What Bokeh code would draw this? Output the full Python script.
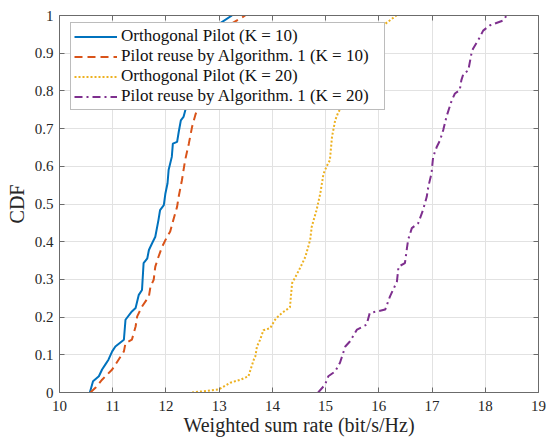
from bokeh.plotting import figure
from bokeh.models import Range1d, FixedTicker, LinearAxis, Legend, LegendItem
from bokeh.embed import file_html
from bokeh.resources import INLINE

# ---- data ----
orth10_x = [10.57, 10.63, 10.74, 10.80, 10.86, 10.92, 10.99, 11.05, 11.21, 11.24, 11.36, 11.43,
            11.49, 11.55, 11.58, 11.65, 11.68, 11.74, 11.80, 11.86, 11.89, 11.96, 11.99, 12.03,
            12.05, 12.11, 12.13, 12.21, 12.24, 12.28, 12.33, 12.38, 12.48, 12.62, 12.77, 12.90,
            13.00, 13.24]
orth10_y = [0.0, 0.03, 0.043, 0.061, 0.074, 0.087, 0.109, 0.122, 0.14, 0.193, 0.215, 0.224,
            0.259, 0.272, 0.343, 0.356, 0.378, 0.396, 0.413, 0.458, 0.484, 0.497, 0.528, 0.555,
            0.59, 0.625, 0.66, 0.665, 0.691, 0.722, 0.731, 0.757, 0.80, 0.85, 0.90, 0.95,
            0.978, 1.0]

reuse10_x = [10.58, 10.68, 10.80, 10.99, 11.05, 11.21, 11.24, 11.36, 11.43, 11.46, 11.55, 11.68,
             11.71, 11.77, 11.80, 11.86, 11.93, 12.02, 12.08, 12.14, 12.21, 12.24, 12.30, 12.36,
             12.43, 12.49, 12.55, 12.70, 12.85, 13.00, 13.10, 13.18, 13.49]
reuse10_y = [0.0, 0.013, 0.034, 0.061, 0.074, 0.109, 0.131, 0.14, 0.175, 0.202, 0.228, 0.255,
             0.281, 0.299, 0.334, 0.36, 0.387, 0.413, 0.427, 0.458, 0.493, 0.52, 0.563, 0.616,
             0.66, 0.704, 0.735, 0.80, 0.85, 0.90, 0.95, 0.974, 1.0]

orth20_x = [12.49, 12.99, 13.21, 13.40, 13.55, 13.65, 13.68, 13.71, 13.77, 13.83, 13.96, 14.05,
            14.11, 14.18, 14.33, 14.37, 14.52, 14.62, 14.71, 14.74, 14.83, 14.90, 14.96, 15.02,
            15.08, 15.12, 15.18, 15.24, 15.30, 15.50, 15.68, 15.85, 16.00, 16.12, 16.33]
orth20_y = [0.0, 0.008, 0.026, 0.034, 0.043, 0.087, 0.096, 0.122, 0.14, 0.165, 0.171, 0.193,
            0.202, 0.211, 0.226, 0.29, 0.33, 0.36, 0.405, 0.44, 0.484, 0.528, 0.58, 0.6,
            0.616, 0.678, 0.722, 0.744, 0.757, 0.80, 0.85, 0.90, 0.95, 0.978, 1.0]

reuse20_x = [14.86, 14.99, 15.05, 15.18, 15.27, 15.37, 15.46, 15.59, 15.77, 15.83, 16.12, 16.21,
             16.34, 16.37, 16.49, 16.55, 16.62, 16.74, 16.83, 16.90, 16.93, 16.99, 17.02, 17.09,
             17.15, 17.21, 17.27, 17.37, 17.43, 17.52, 17.55, 17.59, 17.68, 17.74, 17.77, 17.90,
             17.96, 18.09, 18.34, 18.40]
reuse20_y = [0.0, 0.021, 0.043, 0.056, 0.079, 0.122, 0.136, 0.167, 0.18, 0.211, 0.22, 0.255,
             0.294, 0.334, 0.343, 0.405, 0.436, 0.449, 0.484, 0.519, 0.546, 0.581, 0.625, 0.652,
             0.669, 0.696, 0.731, 0.775, 0.793, 0.802, 0.828, 0.846, 0.854, 0.899, 0.912, 0.943,
             0.96, 0.974, 0.987, 1.0]

series_labels = ["Orthogonal Pilot (K = 10)",
                 "Pilot reuse by Algorithm. 1 (K = 10)",
                 "Orthogonal Pilot (K = 20)",
                 "Pilot reuse by Algorithm. 1 (K = 20)"]

x_ticks = [10, 11, 12, 13, 14, 15, 16, 17, 18, 19]
y_ticks = [0, 0.1, 0.2, 0.3, 0.4, 0.5, 0.6, 0.7, 0.8, 0.9, 1]
y_tick_labels = ["0", "0.1", "0.2", "0.3", "0.4", "0.5", "0.6", "0.7", "0.8", "0.9", "1"]

x_label = "Weighted sum rate (bit/s/Hz)"
y_label = "CDF"

# ---- styling ----
FONT = "Liberation Serif"
AX = "#6b6b6b"
TXT = "#262626"
colors = ["#0072BD", "#D95319", "#EDB120", "#7E2F8E"]
dashes = ["solid", "8 5", "2 2", "8 4 2 4"]

p = figure(width=547, height=440, output_backend="svg", toolbar_location=None,
           x_range=Range1d(10, 19), y_range=Range1d(0, 1),
           min_border_left=59, min_border_right=9, min_border_top=15, min_border_bottom=48)
p.outline_line_color = None
p.background_fill_color = "white"
p.border_fill_color = "white"

for ax in (p.xaxis[0], p.yaxis[0]):
    ax.axis_line_color = AX
    ax.major_tick_line_color = AX
    ax.major_tick_in = 5
    ax.major_tick_out = 0
    ax.minor_tick_in = 0
    ax.minor_tick_out = 0
    ax.major_label_text_font = FONT
    ax.major_label_text_font_size = "15px"
    ax.major_label_text_color = TXT
    ax.axis_label_text_font = FONT
    ax.axis_label_text_font_size = "20px"
    ax.axis_label_text_font_style = "normal"
    ax.axis_label_text_color = TXT

p.xaxis[0].ticker = FixedTicker(ticks=x_ticks)
p.yaxis[0].ticker = FixedTicker(ticks=y_ticks)
p.yaxis[0].major_label_overrides = {t: l for t, l in zip(y_ticks, y_tick_labels)}
p.xaxis[0].axis_label = x_label
p.yaxis[0].axis_label = y_label
p.xaxis[0].major_label_standoff = 8
p.yaxis[0].major_label_standoff = 6
p.xaxis[0].axis_label_standoff = 0
p.yaxis[0].axis_label_standoff = 4

for loc, ticks in (("above", x_ticks), ("right", y_ticks)):
    a = LinearAxis(ticker=FixedTicker(ticks=ticks), major_label_text_font_size="1px",
                   major_label_text_color=None,
                   major_tick_in=5, major_tick_out=0, minor_tick_in=0, minor_tick_out=0,
                   major_label_standoff=0, axis_line_color=AX, major_tick_line_color=AX)
    p.add_layout(a, loc)

p.xgrid.ticker = FixedTicker(ticks=x_ticks)
p.ygrid.ticker = FixedTicker(ticks=y_ticks)
p.xgrid.grid_line_color = "#e2e2e2"
p.ygrid.grid_line_color = "#e2e2e2"

data = [(orth10_x, orth10_y), (reuse10_x, reuse10_y), (orth20_x, orth20_y), (reuse20_x, reuse20_y)]
items = []
for (xs, ys), c, d, lab in zip(data, colors, dashes, series_labels):
    r = p.line(xs, ys, line_color=c, line_width=2, line_dash=d)
    items.append(LegendItem(label=lab, renderers=[r]))

legend = Legend(items=items, location=(11, 282), orientation="vertical",
                label_text_font=FONT, label_text_font_size="17px", label_text_color="#111111",
                label_height=19, glyph_height=19, glyph_width=43, label_standoff=4,
                label_width=260, spacing=0, padding=3, margin=0,
                border_line_color="#7a7a7a", border_line_width=1,
                background_fill_color="white", background_fill_alpha=1.0)
p.add_layout(legend, "center")

open("out.html", "w").write(file_html(p, INLINE))
